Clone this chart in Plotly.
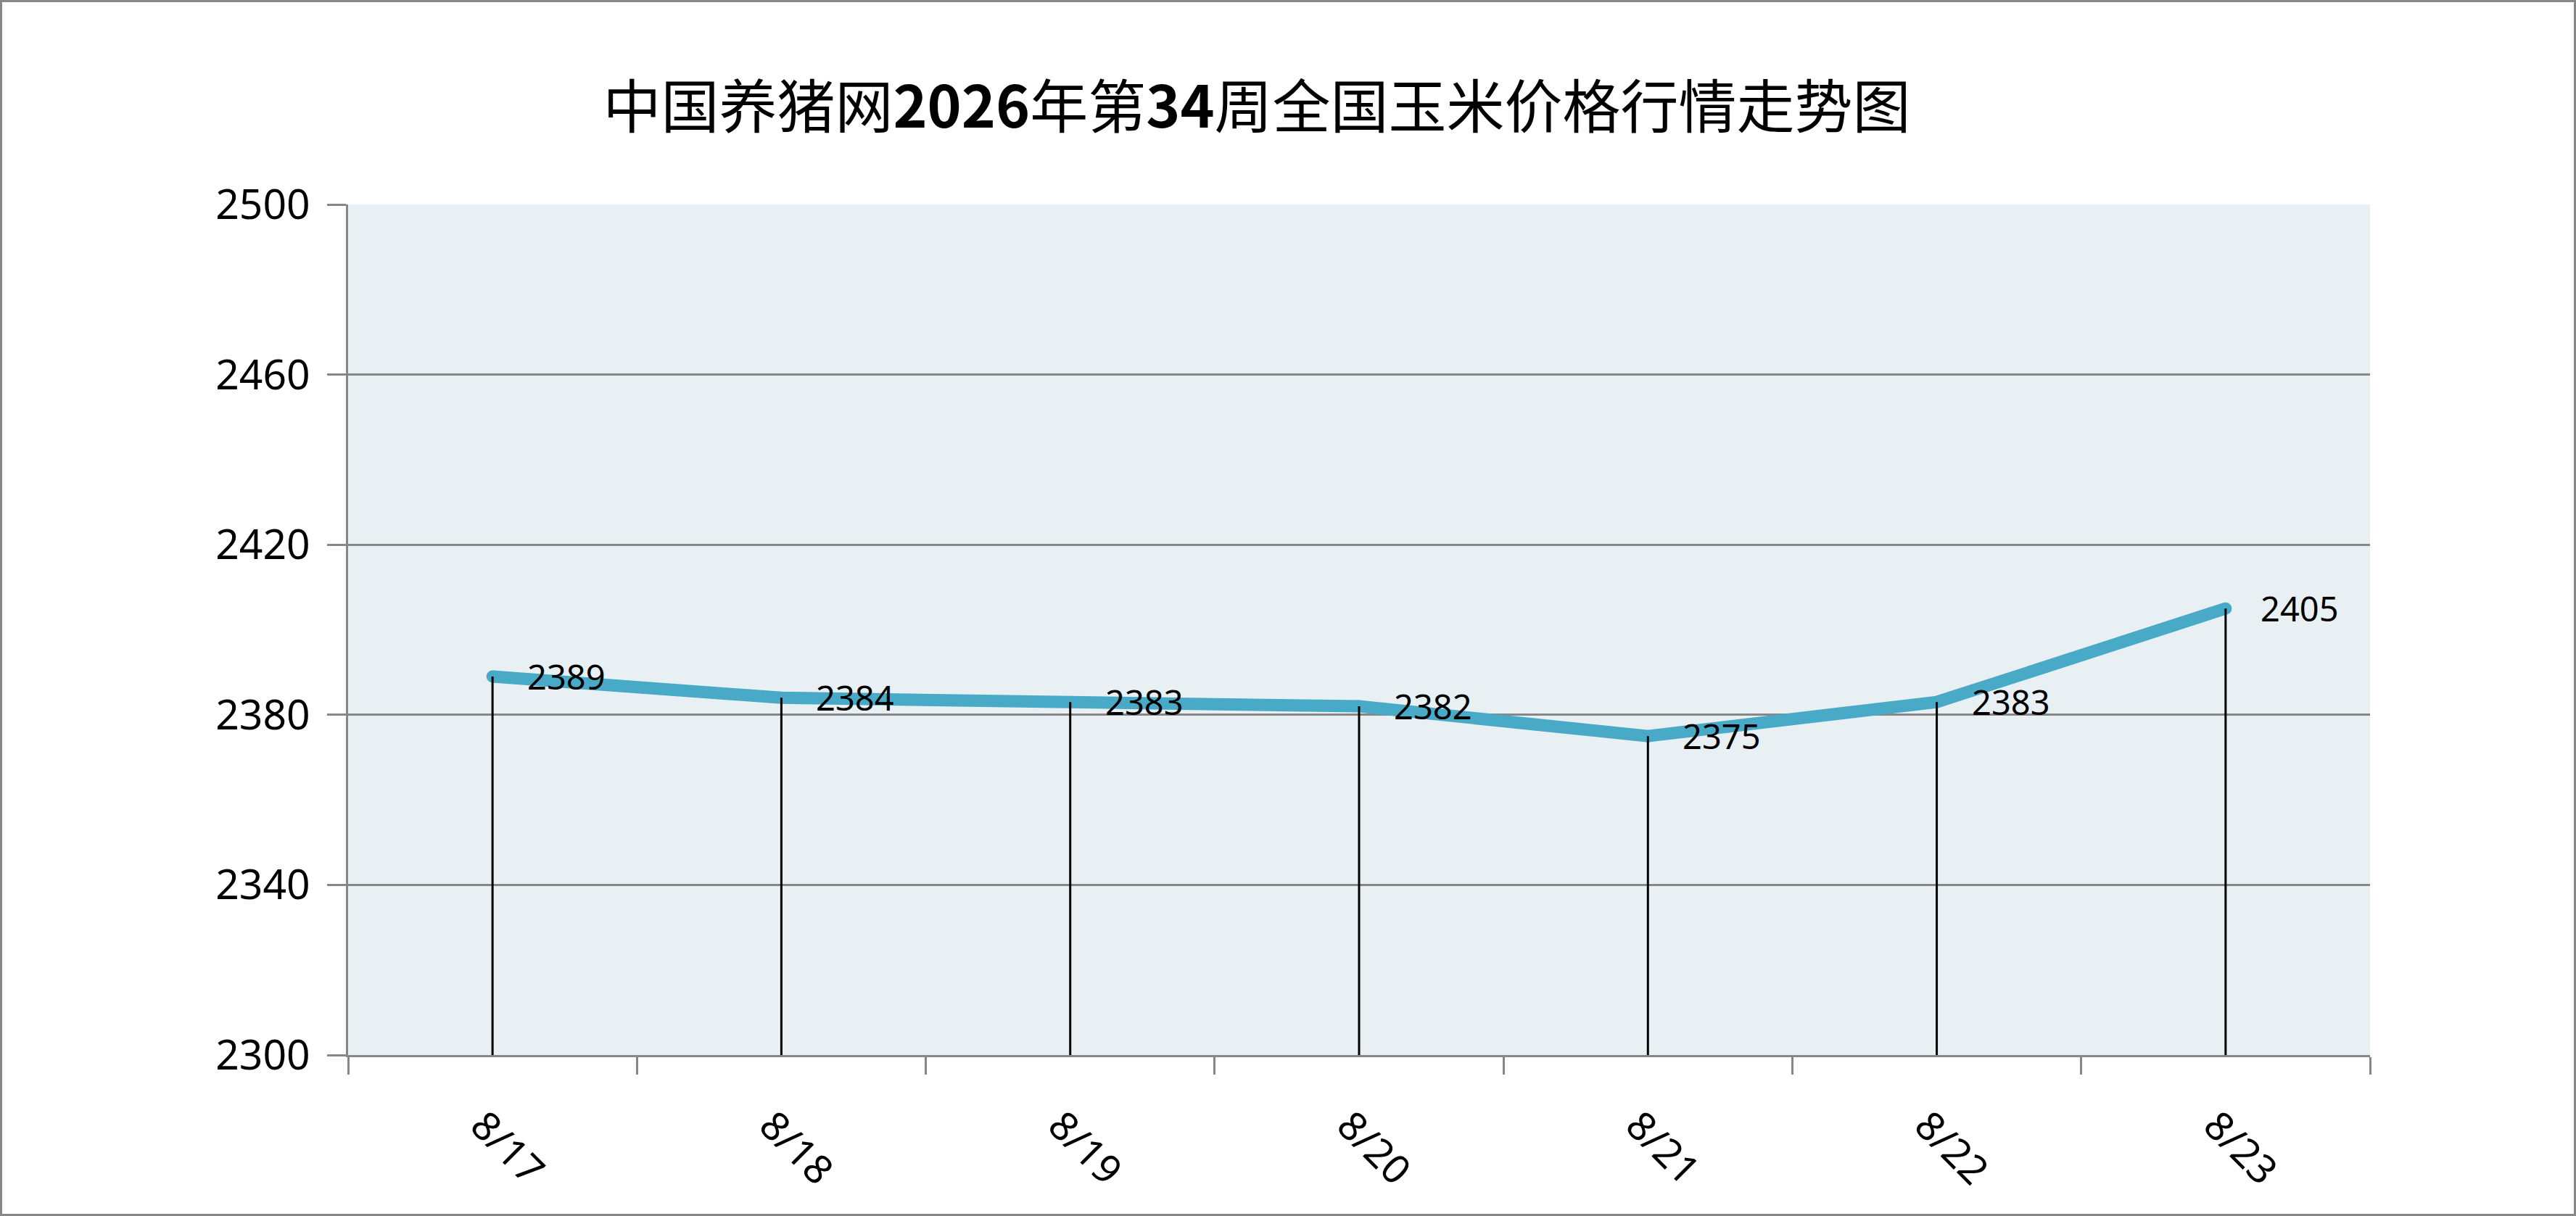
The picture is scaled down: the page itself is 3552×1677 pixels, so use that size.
import plotly.graph_objects as go

# weekly national corn price, week 34
dates = ["8/17", "8/18", "8/19", "8/20", "8/21", "8/22", "8/23"]
prices = [2389, 2384, 2383, 2382, 2375, 2383, 2405]
y_ticks = [2300, 2340, 2380, 2420, 2460, 2500]

W, H = 3552, 1677
ML, MR, MT, MB = 480, 284, 282, 222
PW, PH = W - ML - MR, H - MT - MB

line_color = "#48AAC6"
grid_color = "#878787"
num_font = "Noto Sans"

fig = go.Figure()

# price line (markers give the round ends)
fig.add_trace(go.Scatter(
    x=dates, y=prices,
    mode="lines+markers",
    line=dict(color=line_color, width=17),
    marker=dict(color=line_color, size=17),
    hoverinfo="x+y",
))

# drop lines from each point down to the axis
drop_x, drop_y = [], []
for d, v in zip(dates, prices):
    drop_x += [d, d, None]
    drop_y += [v, y_ticks[0], None]
fig.add_trace(go.Scatter(
    x=drop_x, y=drop_y,
    mode="lines",
    line=dict(color="black", width=3),
    hoverinfo="skip",
))

# value labels right of the points
for d, v in zip(dates, prices):
    fig.add_annotation(
        x=d, y=v, text=str(v),
        xanchor="left", yanchor="middle", xshift=46,
        showarrow=False,
        font=dict(family=num_font, size=47, color="black"),
    )

# outer frame of the picture
fig.add_shape(
    type="rect", xref="paper", yref="paper",
    x0=-(ML - 1.5) / PW, x1=1 + (MR - 1.5) / PW,
    y0=-(MB - 1.5) / PH, y1=1 + (MT - 1.5) / PH,
    line=dict(color=grid_color, width=3),
)

fig.update_layout(
    width=W, height=H, autosize=False,
    margin=dict(l=ML, r=MR, t=MT, b=MB, pad=0),
    paper_bgcolor="white",
    plot_bgcolor="#E8F0F4",
    showlegend=False,
    title=dict(
        text="中国养猪网<b>2026</b>年第<b>34</b>周全国玉米价格行情走势图",
        x=1733 / W, xanchor="center", xref="container",
        y=1 - 148 / H, yanchor="middle", yref="container",
        font=dict(family="Noto Sans CJK SC", size=80, color="black"),
    ),
)

fig.update_xaxes(
    type="category",
    range=[-0.5, len(dates) - 0.5],
    tickangle=45,
    tickson="boundaries",
    ticks="outside", ticklen=24, tickwidth=3, tickcolor=grid_color,
    showline=True, linecolor=grid_color, linewidth=3,
    showgrid=False,
    ticklabelstandoff=40, ticklabelshift=-14,
    tickfont=dict(family=num_font, size=55, color="black"),
)

fig.update_yaxes(
    range=[y_ticks[0], y_ticks[-1]],
    tickvals=y_ticks,
    ticks="outside", ticklen=26, tickwidth=3, tickcolor=grid_color,
    showline=True, linecolor=grid_color, linewidth=3,
    showgrid=True, gridcolor=grid_color, gridwidth=3,
    zeroline=False,
    ticklabelstandoff=12,
    tickfont=dict(family=num_font, size=57, color="black"),
)

fig.write_html(
    "out.html",
    config={"displayModeBar": False},
    post_script="document.body.style.margin='0';",
)
